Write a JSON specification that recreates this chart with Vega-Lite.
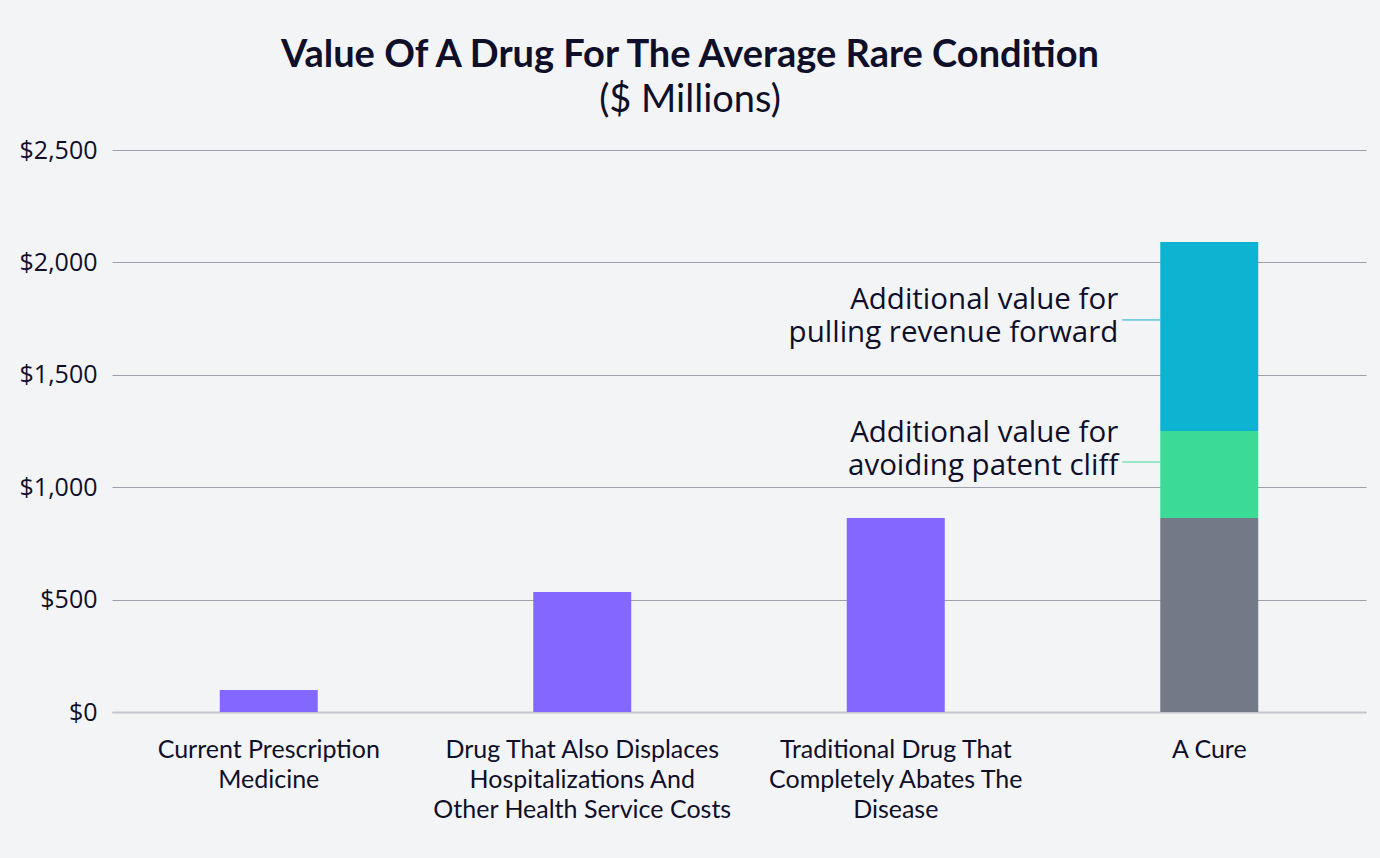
{
  "$schema": "https://vega.github.io/schema/vega-lite/v6.json",
  "autosize": "none",
  "width": 1254,
  "height": 562,
  "padding": {"left": 112, "top": 150, "right": 14, "bottom": 146},
  "background": "#f3f4f6",
  "title": {
    "text": "Value Of A Drug For The Average Rare Condition",
    "subtitle": "($ Millions)",
    "anchor": "middle",
    "frame": "group",
    "dx": -49,
    "offset": 18,
    "font": "Lato",
    "fontSize": 38,
    "fontWeight": "bold",
    "color": "#0f0f2a",
    "subtitleFont": "Lato",
    "subtitleFontSize": 38,
    "subtitleColor": "#0f0f2a",
    "subtitlePadding": 7
  },
  "config": {
    "view": {"stroke": null},
    "font": "Lato"
  },
  "datasets": {
    "bars": [
      {"cat": "Current Prescription|Medicine", "seg": "Drug", "order": 1, "value": 98},
      {"cat": "Drug That Also Displaces|Hospitalizations And|Other Health Service Costs", "seg": "Drug", "order": 1, "value": 534},
      {"cat": "Traditional Drug That|Completely Abates The|Disease", "seg": "Drug", "order": 1, "value": 863},
      {"cat": "A Cure", "seg": "Cure base", "order": 1, "value": 863},
      {"cat": "A Cure", "seg": "Avoiding patent cliff", "order": 2, "value": 387},
      {"cat": "A Cure", "seg": "Pulling revenue forward", "order": 3, "value": 841}
    ],
    "notes": [
      {"cat": "A Cure", "seg": "Pulling revenue forward", "textY": 1833, "lineY": 1744, "label": "Additional value for|pulling revenue forward"},
      {"cat": "A Cure", "seg": "Avoiding patent cliff", "textY": 1242, "lineY": 1112, "label": "Additional value for|avoiding patent cliff"}
    ]
  },
  "layer": [
    {
      "data": {"name": "bars"},
      "mark": {"type": "bar"},
      "encoding": {
        "x": {
          "field": "cat", "type": "nominal", "sort": null,
          "scale": {"paddingInner": 0.6875, "paddingOuter": 0.34375},
          "axis": {
            "title": null,
            "labelAngle": 0,
            "labelExpr": "split(datum.label, '|')",
            "labelFont": "Lato",
            "labelFontSize": 25,
            "labelColor": "#0f0f2a",
            "labelLineHeight": 30,
            "labelPadding": 25,
            "labelBaseline": "top",
            "labelLimit": 0,
            "ticks": false,
            "domainColor": "#c4c5cf",
            "domainWidth": 2
          }
        },
        "y": {
          "field": "value", "type": "quantitative", "stack": "zero",
          "scale": {"domain": [0, 2500], "nice": false},
          "axis": {
            "title": null,
            "values": [0, 500, 1000, 1500, 2000, 2500],
            "labelExpr": "'$' + format(datum.value, ',')",
            "labelFont": "Open Sans",
            "labelFontSize": 25,
            "labelColor": "#0f0f2a",
            "labelPadding": 15,
            "ticks": false,
            "domain": false,
            "gridColor": "#9fa0ad",
            "gridWidth": 1
          }
        },
        "order": {"field": "order", "type": "quantitative"},
        "color": {
          "field": "seg", "type": "nominal", "legend": null,
          "scale": {
            "domain": ["Drug", "Cure base", "Avoiding patent cliff", "Pulling revenue forward"],
            "range": ["#8467ff", "#737987", "#3bdb97", "#0eb3d1"]
          }
        }
      }
    },
    {
      "data": {"name": "notes"},
      "mark": {"type": "rule", "strokeWidth": 1, "xOffset": -38},
      "encoding": {
        "x": {"field": "cat", "type": "nominal", "sort": null, "bandPosition": 0},
        "x2": {"field": "cat", "bandPosition": 0},
        "y": {"field": "lineY", "type": "quantitative"},
        "color": {"field": "seg", "type": "nominal", "legend": null}
      }
    },
    {
      "data": {"name": "notes"},
      "mark": {"type": "text", "align": "right", "baseline": "middle", "dx": -42, "font": "Open Sans", "fontSize": 29.5, "lineHeight": 33, "color": "#0f0f2a"},
      "encoding": {
        "x": {"field": "cat", "type": "nominal", "sort": null, "bandPosition": 0},
        "y": {"field": "textY", "type": "quantitative"},
        "text": {"field": "splitLabel"}
      },
      "transform": [{"calculate": "split(datum.label, '|')", "as": "splitLabel"}]
    }
  ]
}
